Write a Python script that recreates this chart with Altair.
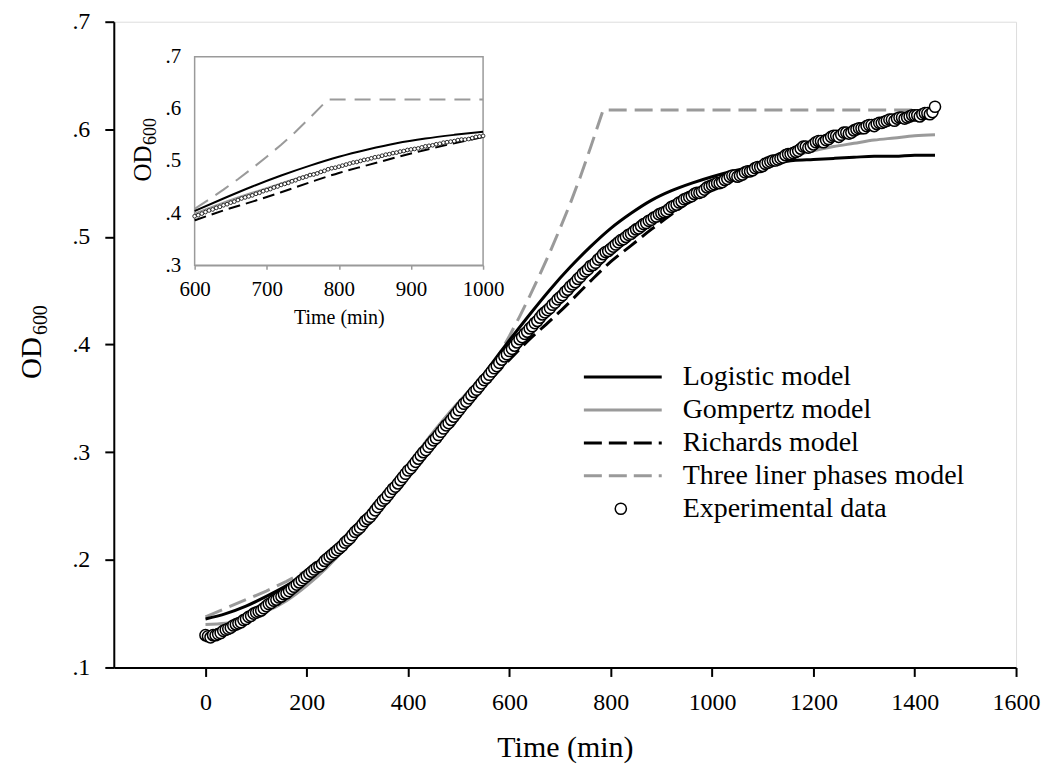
import altair as alt
import pandas as pd

FONT = "Liberation Serif"
GRAY = "#9a9a9a"

# ---------------- data ----------------
EXP_T = [0, 5, 10, 15, 20, 25, 30, 35, 40, 45, 50, 55, 60, 65, 70, 75, 80, 85, 90, 95,
         100, 105, 110, 115, 120, 125, 130, 135, 140, 145, 150, 155, 160, 165, 170, 175, 180, 185, 190, 195,
         200, 205, 210, 215, 220, 225, 230, 235, 240, 245, 250, 255, 260, 265, 270, 275, 280, 285, 290, 295,
         300, 305, 310, 315, 320, 325, 330, 335, 340, 345, 350, 355, 360, 365, 370, 375, 380, 385, 390, 395,
         400, 405, 410, 415, 420, 425, 430, 435, 440, 445, 450, 455, 460, 465, 470, 475, 480, 485, 490, 495,
         500, 505, 510, 515, 520, 525, 530, 535, 540, 545, 550, 555, 560, 565, 570, 575, 580, 585, 590, 595,
         600, 605, 610, 615, 620, 625, 630, 635, 640, 645, 650, 655, 660, 665, 670, 675, 680, 685, 690, 695,
         700, 705, 710, 715, 720, 725, 730, 735, 740, 745, 750, 755, 760, 765, 770, 775, 780, 785, 790, 795,
         800, 805, 810, 815, 820, 825, 830, 835, 840, 845, 850, 855, 860, 865, 870, 875, 880, 885, 890, 895,
         900, 905, 910, 915, 920, 925, 930, 935, 940, 945, 950, 955, 960, 965, 970, 975, 980, 985, 990, 995,
         1000, 1005, 1010, 1015, 1020, 1025, 1030, 1035, 1040, 1045, 1050, 1055, 1060, 1065, 1070, 1075,
         1080, 1085, 1090, 1095, 1100, 1105, 1110, 1115, 1120, 1125, 1130, 1135, 1140, 1145, 1150, 1155,
         1160, 1165, 1170, 1175, 1180, 1185, 1190, 1195, 1200, 1205, 1210, 1215, 1220, 1225, 1230, 1235,
         1240, 1245, 1250, 1255, 1260, 1265, 1270, 1275, 1280, 1285, 1290, 1295, 1300, 1305, 1310, 1315,
         1320, 1325, 1330, 1335, 1340, 1345, 1350, 1355, 1360, 1365, 1370, 1375, 1380, 1385, 1390, 1395,
         1400, 1405, 1410, 1415, 1420, 1425, 1430, 1435, 1440]
EXP_OD = [0.130, 0.129, 0.128, 0.130, 0.130, 0.131, 0.132, 0.134, 0.135, 0.136,
          0.137, 0.139, 0.140, 0.141, 0.142, 0.144, 0.145, 0.147, 0.148, 0.150,
          0.151, 0.152, 0.153, 0.155, 0.157, 0.159, 0.160, 0.162, 0.163, 0.165,
          0.166, 0.168, 0.169, 0.171, 0.173, 0.175, 0.177, 0.179, 0.181, 0.183,
          0.185, 0.187, 0.189, 0.191, 0.193, 0.194, 0.196, 0.199, 0.201, 0.203,
          0.205, 0.207, 0.209, 0.211, 0.213, 0.216, 0.218, 0.220, 0.223, 0.226,
          0.228, 0.230, 0.233, 0.236, 0.238, 0.240, 0.243, 0.246, 0.249, 0.252,
          0.255, 0.257, 0.260, 0.263, 0.266, 0.268, 0.271, 0.274, 0.277, 0.280,
          0.283, 0.285, 0.288, 0.291, 0.294, 0.297, 0.300, 0.302, 0.305, 0.308,
          0.311, 0.313, 0.316, 0.319, 0.322, 0.325, 0.327, 0.330, 0.333, 0.336,
          0.339, 0.342, 0.345, 0.347, 0.350, 0.353, 0.356, 0.358, 0.361, 0.364,
          0.367, 0.369, 0.372, 0.375, 0.378, 0.380, 0.383, 0.386, 0.389, 0.391,
          0.394, 0.396, 0.399, 0.402, 0.405, 0.407, 0.410, 0.412, 0.415, 0.417,
          0.420, 0.422, 0.425, 0.428, 0.430, 0.432, 0.434, 0.437, 0.439, 0.442,
          0.444, 0.446, 0.449, 0.451, 0.454, 0.456, 0.458, 0.461, 0.463, 0.466,
          0.468, 0.470, 0.473, 0.474, 0.476, 0.479, 0.481, 0.484, 0.486, 0.487,
          0.489, 0.491, 0.493, 0.495, 0.497, 0.498, 0.500, 0.502, 0.503, 0.505,
          0.507, 0.508, 0.510, 0.512, 0.513, 0.515, 0.516, 0.518, 0.519, 0.521,
          0.522, 0.523, 0.524, 0.526, 0.528, 0.529, 0.530, 0.532, 0.533, 0.535,
          0.536, 0.537, 0.538, 0.540, 0.541, 0.541, 0.542, 0.544, 0.546, 0.547,
          0.548, 0.549, 0.550, 0.550, 0.551, 0.553, 0.554, 0.556, 0.557, 0.557,
          0.556, 0.557, 0.558, 0.560, 0.561, 0.561, 0.562, 0.564, 0.565, 0.565,
          0.566, 0.568, 0.569, 0.570, 0.571, 0.571, 0.572, 0.573, 0.574, 0.576,
          0.577, 0.577, 0.578, 0.579, 0.580, 0.582, 0.584, 0.584, 0.583, 0.584,
          0.586, 0.588, 0.589, 0.589, 0.588, 0.590, 0.591, 0.593, 0.594, 0.594,
          0.593, 0.595, 0.597, 0.597, 0.596, 0.597, 0.599, 0.600, 0.601, 0.601,
          0.601, 0.603, 0.604, 0.604, 0.603, 0.605, 0.606, 0.606, 0.607, 0.608,
          0.609, 0.609, 0.608, 0.610, 0.611, 0.611, 0.610, 0.611, 0.612, 0.613,
          0.613, 0.613, 0.612, 0.614, 0.615, 0.615, 0.614, 0.616, 0.621]

MODEL_T = [0, 40, 80, 120, 160, 200, 240, 280, 320, 360, 400, 440, 480, 520, 560, 600, 640, 680, 720,
           760, 800, 840, 880, 920, 960, 1000, 1040, 1080, 1120, 1160, 1200, 1240, 1280, 1320, 1360, 1400, 1440]
LOGISTIC = [0.145, 0.150, 0.157, 0.166, 0.176, 0.188, 0.203, 0.219, 0.236, 0.257, 0.279, 0.302, 0.327,
            0.353, 0.379, 0.404, 0.428, 0.451, 0.472, 0.491, 0.508, 0.522, 0.534, 0.543, 0.550, 0.556,
            0.561, 0.565, 0.568, 0.571, 0.572, 0.573, 0.574, 0.575, 0.575, 0.576, 0.576]
GOMPERTZ = [0.140, 0.141, 0.145, 0.152, 0.162, 0.176, 0.193, 0.213, 0.236, 0.261, 0.287, 0.313, 0.336,
            0.357, 0.377, 0.399, 0.420, 0.439, 0.457, 0.474, 0.489, 0.503, 0.515, 0.527, 0.538, 0.548,
            0.556, 0.563, 0.569, 0.575, 0.580, 0.584, 0.587, 0.590, 0.592, 0.594, 0.595]
RICHARDS = [0.131, 0.135, 0.143, 0.153, 0.166, 0.181, 0.198, 0.217, 0.238, 0.260, 0.283, 0.305, 0.325,
            0.346, 0.366, 0.386, 0.405, 0.422, 0.440, 0.459, 0.477, 0.492, 0.507, 0.521, 0.534, 0.546,
            0.556, 0.565, 0.573, 0.580, 0.587, 0.593, 0.598, 0.603, 0.607, 0.611, 0.614]
THREE_T = [0, 40, 80, 120, 160, 200, 240, 280, 320, 360, 400, 440, 480, 520, 560, 580, 600, 620, 640,
           660, 680, 700, 720, 740, 760, 785, 1000, 1440]
THREE = [0.147, 0.155, 0.163, 0.171, 0.180, 0.190, 0.201, 0.216, 0.235, 0.258, 0.282, 0.305, 0.328,
         0.351, 0.375, 0.391, 0.408, 0.426, 0.445, 0.465, 0.486, 0.508, 0.531, 0.556, 0.583, 0.618,
         0.618, 0.618]

LEGEND = ["Logistic model", "Gompertz model", "Richards model", "Three liner phases model", "Experimental data"]

X_TICKS = [0, 200, 400, 600, 800, 1000, 1200, 1400, 1600]
Y_TICKS = [0.1, 0.2, 0.3, 0.4, 0.5, 0.6, 0.7]
IN_X_TICKS = [600, 700, 800, 900, 1000]
IN_Y_TICKS = [0.3, 0.4, 0.5, 0.6, 0.7]

exp_df = pd.DataFrame({"t": EXP_T, "od": EXP_OD})
mod_df = pd.DataFrame({"t": MODEL_T, "log": LOGISTIC, "gom": GOMPERTZ, "ric": RICHARDS})
three_df = pd.DataFrame({"t": THREE_T, "od": THREE})

W, H = 904, 647
TOP = 13
LABEL_EXPR = "replace(format(datum.value, '.1f'), '0.', '.')"

# ---------------- main axes / scales ----------------
x_axis = alt.Axis(values=X_TICKS, title="Time (min)", titleFont=FONT, titleFontSize=30,
                  titleFontWeight="normal", titleColor="black", titlePadding=18,
                  labelFont=FONT, labelFontSize=24, labelColor="black", labelPadding=14,
                  labelFlush=False, labelOverlap=False, format="d",
                  tickSize=9, tickWidth=2, tickColor="black",
                  domainColor="black", domainWidth=2, grid=False)
y_axis = alt.Axis(values=Y_TICKS, title=None, labelExpr=LABEL_EXPR,
                  labelFont=FONT, labelFontSize=24, labelColor="black", labelPadding=15,
                  labelFlush=False, labelOverlap=False,
                  tickSize=9, tickWidth=2, tickColor="black",
                  domainColor="black", domainWidth=2, grid=False)
x_sc = alt.Scale(domain=[-181, 1600], nice=False, zero=False)
y_sc = alt.Scale(domain=[0.1, 0.7], nice=False, zero=False)


def X(field):
    return alt.X(field, type="quantitative", scale=x_sc, axis=x_axis)


def Y(field):
    return alt.Y(field, type="quantitative", scale=y_sc, axis=y_axis)


three_line = alt.Chart(three_df).mark_line(color=GRAY, strokeWidth=3, strokeDash=[18, 8]).encode(
    x=X("t"), y=Y("od"))
ric_line = alt.Chart(mod_df).mark_line(color="black", strokeWidth=3, strokeDash=[16, 7],
                                       interpolate="monotone").encode(x=X("t"), y=Y("ric"))
gom_line = alt.Chart(mod_df).mark_line(color=GRAY, strokeWidth=3, interpolate="monotone").encode(
    x=X("t"), y=Y("gom"))
log_line = alt.Chart(mod_df).mark_line(color="black", strokeWidth=3, interpolate="monotone").encode(
    x=X("t"), y=Y("log"))
pts = alt.Chart(exp_df).mark_point(shape="circle", filled=True, fill="white", stroke="black",
                                   strokeWidth=1.5, size=125, opacity=1).encode(x=X("t"), y=Y("od"))

# ---------------- legend (drawn in pixel space) ----------------
one = pd.DataFrame({"a": [0]})
LEG_Y = [356, 389, 422, 455, 488]
leg_styles = [
    dict(color="black", strokeWidth=3),
    dict(color=GRAY, strokeWidth=3),
    dict(color="black", strokeWidth=3, strokeDash=[18, 7]),
    dict(color=GRAY, strokeWidth=3, strokeDash=[18, 7]),
]
legend_layers = []
for i, lab in enumerate(LEGEND):
    if i < 4:
        legend_layers.append(
            alt.Chart(one).mark_rule(**leg_styles[i]).encode(
                x=alt.value(471), x2=alt.value(549), y=alt.value(LEG_Y[i])))
    else:
        legend_layers.append(
            alt.Chart(one).mark_point(shape="circle", filled=True, fill="white", stroke="black",
                                      strokeWidth=1.5, size=125, opacity=1).encode(
                x=alt.value(508), y=alt.value(LEG_Y[i])))
    legend_layers.append(
        alt.Chart(one).mark_text(text=lab, align="left", baseline="middle", font=FONT,
                                 fontSize=28, color="black").encode(
            x=alt.value(570), y=alt.value(LEG_Y[i])))

# y title OD600 (main)
ytitle = [
    alt.Chart(one).mark_text(text="OD", angle=270, align="center", baseline="alphabetic",
                             font=FONT, fontSize=29, color="black").encode(
        x=alt.value(-73), y=alt.value(337)),
    alt.Chart(one).mark_text(text="600", angle=270, align="center", baseline="alphabetic",
                             font=FONT, fontSize=20, color="black").encode(
        x=alt.value(-67), y=alt.value(299)),
]

main = alt.layer(three_line, ric_line, gom_line, log_line, pts, *legend_layers, *ytitle)

# ---------------- inset ----------------
IN_L, IN_R, IN_T, IN_B = 81, 370, 35, 244
ix_sc = alt.Scale(domain=[600, 1000], range=[IN_L, IN_R], nice=False, zero=False)
iy_sc = alt.Scale(domain=[0.3, 0.7], range=[IN_B, IN_T], nice=False, zero=False)
ix_axis = alt.Axis(values=IN_X_TICKS, orient="bottom", offset=-(H - IN_B), title="Time (min)",
                   titleFont=FONT, titleFontSize=20, titleFontWeight="normal", titleColor="black",
                   titlePadding=8, labelFont=FONT, labelFontSize=21, labelColor="black",
                   labelPadding=9, labelFlush=False, labelOverlap=False, format="d",
                   tickSize=4, tickWidth=1.5, tickColor=GRAY, domainColor=GRAY, domainWidth=1.5,
                   grid=False)
iy_axis = alt.Axis(values=IN_Y_TICKS, orient="left", offset=-IN_L, title=None, labelExpr=LABEL_EXPR,
                   labelFont=FONT, labelFontSize=21, labelColor="black", labelPadding=14,
                   labelFlush=False, labelOverlap=False, ticks=False,
                   domainColor=GRAY, domainWidth=1.5, grid=False)


def IX(field):
    return alt.X(field, type="quantitative", scale=ix_sc, axis=ix_axis)


def IY(field):
    return alt.Y(field, type="quantitative", scale=iy_sc, axis=iy_axis)


frame_df = pd.DataFrame({"x": [IN_X_TICKS[0]], "x2": [IN_X_TICKS[-1]],
                         "y": [IN_Y_TICKS[0]], "y2": [IN_Y_TICKS[-1]]})
frame = alt.Chart(frame_df).mark_rect(fill="white", stroke=GRAY, strokeWidth=1.5).encode(
    x=IX("x"), x2="x2", y=IY("y"), y2="y2")

flt = alt.datum.t >= 600
flt2 = alt.datum.t <= 1000
i_three = alt.Chart(three_df).transform_filter(flt).transform_filter(flt2).mark_line(
    color=GRAY, strokeWidth=2, strokeDash=[16, 9]).encode(x=IX("t"), y=IY("od"))
i_ric = alt.Chart(mod_df).transform_filter(flt).transform_filter(flt2).mark_line(
    color="black", strokeWidth=2, strokeDash=[12, 6], interpolate="monotone").encode(x=IX("t"), y=IY("ric"))
i_gom = alt.Chart(mod_df).transform_filter(flt).transform_filter(flt2).mark_line(
    color=GRAY, strokeWidth=2, interpolate="monotone").encode(x=IX("t"), y=IY("gom"))
i_log = alt.Chart(mod_df).transform_filter(flt).transform_filter(flt2).mark_line(
    color="black", strokeWidth=2, interpolate="monotone").encode(x=IX("t"), y=IY("log"))
i_pts = alt.Chart(exp_df).transform_filter(flt).transform_filter(flt2).mark_point(
    shape="circle", filled=True, fill="white", stroke="black", strokeWidth=0.8, size=14,
    opacity=1).encode(x=IX("t"), y=IY("od"))

in_ytitle = [
    alt.Chart(one).mark_text(text="OD", angle=270, align="center", baseline="alphabetic",
                             font=FONT, fontSize=25, color="black").encode(
        x=alt.value(37), y=alt.value(142)),
    alt.Chart(one).mark_text(text="600", angle=270, align="center", baseline="alphabetic",
                             font=FONT, fontSize=18, color="black").encode(
        x=alt.value(42), y=alt.value(110)),
]

inset = alt.layer(frame, i_three, i_ric, i_gom, i_log, i_pts, *in_ytitle)

chart = alt.layer(main, inset).resolve_scale(x="independent", y="independent").properties(
    width=W, height=H,
    autosize=alt.AutoSizeParams(type="none"),
    padding={"left": 106, "top": TOP, "right": 25, "bottom": 100},
).configure_view(stroke="black", strokeWidth=2).configure(background="white")

chart.save("out.html", embed_options={"renderer": "svg", "actions": False})
